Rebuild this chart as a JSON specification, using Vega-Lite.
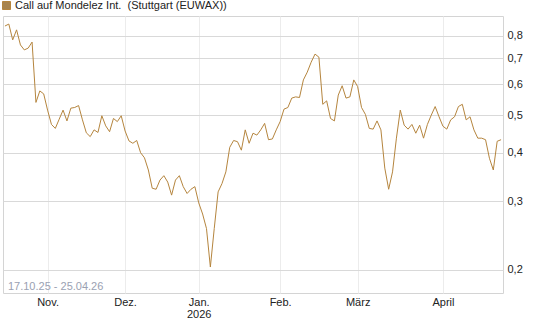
{
  "$schema": "https://vega.github.io/schema/vega-lite/v6.json",
  "width": 500,
  "height": 277,
  "autosize": "none",
  "padding": {"left": 3, "top": 16, "right": 42, "bottom": 34},
  "background": "#ffffff",
  "config": {
    "font": "Liberation Sans",
    "view": {"stroke": "#d4d4d4", "strokeWidth": 1}
  },
  "layer": [
    {
      "data": {"values": [
        {"d": "2025-10-17", "v": 0.848}, {"d": "2025-10-20", "v": 0.858}, {"d": "2025-10-21", "v": 0.781}, {"d": "2025-10-22", "v": 0.829}, {"d": "2025-10-23", "v": 0.758}, {"d": "2025-10-24", "v": 0.736}, {"d": "2025-10-27", "v": 0.744}, {"d": "2025-10-28", "v": 0.771}, {"d": "2025-10-29", "v": 0.539}, {"d": "2025-10-30", "v": 0.577}, {"d": "2025-10-31", "v": 0.567},
        {"d": "2025-11-03", "v": 0.515}, {"d": "2025-11-04", "v": 0.473}, {"d": "2025-11-05", "v": 0.462}, {"d": "2025-11-06", "v": 0.488}, {"d": "2025-11-07", "v": 0.515}, {"d": "2025-11-10", "v": 0.483}, {"d": "2025-11-11", "v": 0.521}, {"d": "2025-11-12", "v": 0.523}, {"d": "2025-11-13", "v": 0.529}, {"d": "2025-11-14", "v": 0.486}, {"d": "2025-11-17", "v": 0.450}, {"d": "2025-11-18", "v": 0.440}, {"d": "2025-11-19", "v": 0.458}, {"d": "2025-11-20", "v": 0.451}, {"d": "2025-11-21", "v": 0.498}, {"d": "2025-11-24", "v": 0.469}, {"d": "2025-11-25", "v": 0.453}, {"d": "2025-11-26", "v": 0.490}, {"d": "2025-11-27", "v": 0.481}, {"d": "2025-11-28", "v": 0.498},
        {"d": "2025-12-01", "v": 0.455}, {"d": "2025-12-02", "v": 0.429}, {"d": "2025-12-03", "v": 0.423}, {"d": "2025-12-04", "v": 0.430}, {"d": "2025-12-05", "v": 0.400}, {"d": "2025-12-08", "v": 0.388}, {"d": "2025-12-09", "v": 0.361}, {"d": "2025-12-10", "v": 0.324}, {"d": "2025-12-11", "v": 0.322}, {"d": "2025-12-12", "v": 0.340}, {"d": "2025-12-15", "v": 0.349}, {"d": "2025-12-16", "v": 0.336}, {"d": "2025-12-17", "v": 0.311}, {"d": "2025-12-18", "v": 0.340}, {"d": "2025-12-19", "v": 0.349}, {"d": "2025-12-22", "v": 0.327}, {"d": "2025-12-23", "v": 0.314}, {"d": "2025-12-29", "v": 0.322}, {"d": "2025-12-30", "v": 0.327},
        {"d": "2026-01-02", "v": 0.297}, {"d": "2026-01-05", "v": 0.278}, {"d": "2026-01-06", "v": 0.255}, {"d": "2026-01-07", "v": 0.203}, {"d": "2026-01-08", "v": 0.255}, {"d": "2026-01-09", "v": 0.317}, {"d": "2026-01-12", "v": 0.333}, {"d": "2026-01-13", "v": 0.357}, {"d": "2026-01-14", "v": 0.413}, {"d": "2026-01-15", "v": 0.430}, {"d": "2026-01-16", "v": 0.427}, {"d": "2026-01-19", "v": 0.406}, {"d": "2026-01-20", "v": 0.458}, {"d": "2026-01-21", "v": 0.423}, {"d": "2026-01-22", "v": 0.449}, {"d": "2026-01-23", "v": 0.444}, {"d": "2026-01-26", "v": 0.458}, {"d": "2026-01-27", "v": 0.476}, {"d": "2026-01-28", "v": 0.432}, {"d": "2026-01-29", "v": 0.434}, {"d": "2026-01-30", "v": 0.458},
        {"d": "2026-02-02", "v": 0.481}, {"d": "2026-02-03", "v": 0.518}, {"d": "2026-02-04", "v": 0.523}, {"d": "2026-02-05", "v": 0.553}, {"d": "2026-02-06", "v": 0.557}, {"d": "2026-02-09", "v": 0.555}, {"d": "2026-02-10", "v": 0.616}, {"d": "2026-02-11", "v": 0.645}, {"d": "2026-02-12", "v": 0.684}, {"d": "2026-02-13", "v": 0.718}, {"d": "2026-02-16", "v": 0.705}, {"d": "2026-02-17", "v": 0.533}, {"d": "2026-02-18", "v": 0.544}, {"d": "2026-02-19", "v": 0.490}, {"d": "2026-02-20", "v": 0.483}, {"d": "2026-02-23", "v": 0.563}, {"d": "2026-02-24", "v": 0.595}, {"d": "2026-02-25", "v": 0.553}, {"d": "2026-02-26", "v": 0.557}, {"d": "2026-02-27", "v": 0.616},
        {"d": "2026-03-02", "v": 0.592}, {"d": "2026-03-03", "v": 0.523}, {"d": "2026-03-04", "v": 0.502}, {"d": "2026-03-05", "v": 0.462}, {"d": "2026-03-06", "v": 0.460}, {"d": "2026-03-09", "v": 0.483}, {"d": "2026-03-10", "v": 0.458}, {"d": "2026-03-11", "v": 0.365}, {"d": "2026-03-12", "v": 0.322}, {"d": "2026-03-13", "v": 0.357}, {"d": "2026-03-16", "v": 0.436}, {"d": "2026-03-17", "v": 0.515}, {"d": "2026-03-18", "v": 0.471}, {"d": "2026-03-19", "v": 0.460}, {"d": "2026-03-20", "v": 0.473}, {"d": "2026-03-23", "v": 0.449}, {"d": "2026-03-24", "v": 0.471}, {"d": "2026-03-25", "v": 0.436}, {"d": "2026-03-26", "v": 0.473}, {"d": "2026-03-27", "v": 0.500}, {"d": "2026-03-30", "v": 0.526}, {"d": "2026-03-31", "v": 0.495},
        {"d": "2026-04-01", "v": 0.468}, {"d": "2026-04-02", "v": 0.460}, {"d": "2026-04-07", "v": 0.486}, {"d": "2026-04-08", "v": 0.495}, {"d": "2026-04-09", "v": 0.526}, {"d": "2026-04-10", "v": 0.533}, {"d": "2026-04-13", "v": 0.486}, {"d": "2026-04-14", "v": 0.495}, {"d": "2026-04-15", "v": 0.458}, {"d": "2026-04-16", "v": 0.436}, {"d": "2026-04-17", "v": 0.436}, {"d": "2026-04-20", "v": 0.432}, {"d": "2026-04-21", "v": 0.387}, {"d": "2026-04-22", "v": 0.361}, {"d": "2026-04-23", "v": 0.428}, {"d": "2026-04-24", "v": 0.432}
      ]},
      "mark": {"type": "line", "strokeWidth": 1, "interpolate": "linear"},
      "encoding": {
        "x": {
          "field": "d", "type": "ordinal", "sort": null,
          "scale": {"type": "point", "padding": 0.5},
          "axis": {
            "title": null,
            "values": ["2025-11-03", "2025-12-01", "2026-01-02", "2026-02-02", "2026-03-02", "2026-04-01"],
            "labelExpr": "datum.value == '2025-11-03' ? 'Nov.' : datum.value == '2025-12-01' ? 'Dez.' : datum.value == '2026-01-02' ? ['Jan.', '2026'] : datum.value == '2026-02-02' ? 'Feb.' : datum.value == '2026-03-02' ? 'März' : 'April'",
            "labelAngle": 0,
            "labelFont": "Liberation Sans",
            "labelFontSize": 11,
            "labelColor": "#222222",
            "labelPadding": 3,
            "labelLineHeight": 12,
            "labelOverlap": false,
            "ticks": false,
            "domain": false,
            "grid": true,
            "gridColor": "#ececec",
            "gridWidth": 1
          }
        },
        "y": {
          "field": "v", "type": "quantitative",
          "scale": {"type": "log", "domain": [0.174, 0.9], "nice": false, "zero": false},
          "axis": {
            "orient": "right",
            "title": null,
            "values": [0.2, 0.3, 0.4, 0.5, 0.6, 0.7, 0.8],
            "labelExpr": "replace(format(datum.value, '.1f'), '.', ',')",
            "labelFont": "Liberation Sans",
            "labelFontSize": 11,
            "labelColor": "#222222",
            "labelPadding": 4,
            "ticks": false,
            "domain": false,
            "grid": true,
            "gridColor": "#d9d9d9",
            "gridWidth": 1
          }
        },
        "color": {
          "datum": "Call auf Mondelez Int.\u00a0 (Stuttgart (EUWAX))",
          "scale": {"range": ["#b5853e"]},
          "legend": {
            "title": null,
            "orient": "none",
            "legendX": -2,
            "legendY": -16,
            "padding": 0,
            "symbolType": "square",
            "symbolSize": 64,
            "symbolStrokeColor": "#333333",
            "symbolStrokeWidth": 1,
            "labelFont": "Liberation Sans",
            "labelFontSize": 11,
            "labelColor": "#222222",
            "labelOffset": 3,
            "labelLimit": 400,
            "encode": {"symbols": {"update": {"fill": {"value": "#a8844e"}, "stroke": {"value": "#333333"}, "strokeWidth": {"value": 1}, "opacity": {"value": 1}}}}
          }
        }
      }
    },
    {
      "data": {"values": [{"d": "2025-10-17", "v": 0.1804, "label": "17.10.25 - 25.04.26"}]},
      "mark": {"type": "text", "align": "left", "baseline": "middle", "dx": 3, "font": "Liberation Sans", "fontSize": 11, "color": "#9aa1b2"},
      "encoding": {
        "x": {"field": "d", "type": "ordinal"},
        "y": {"field": "v", "type": "quantitative"},
        "text": {"field": "label"}
      }
    }
  ]
}
